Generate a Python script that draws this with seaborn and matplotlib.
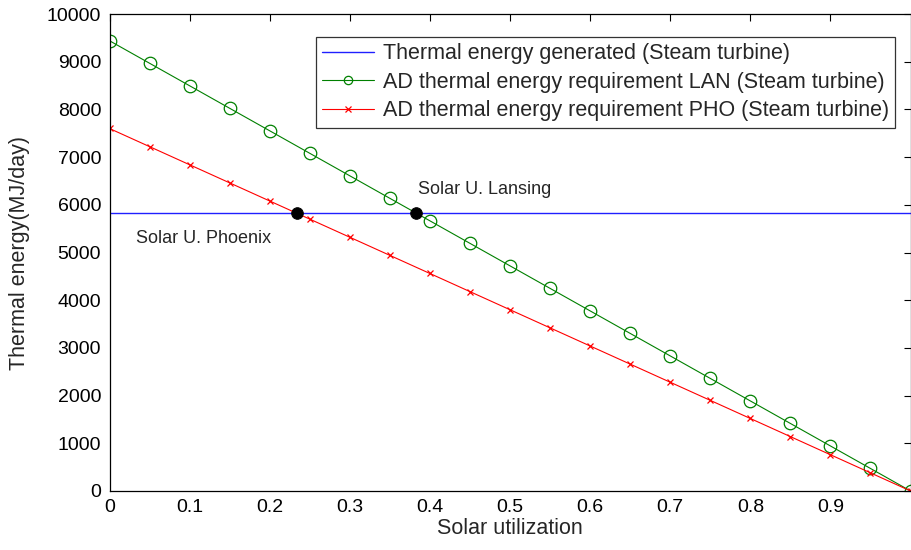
import matplotlib
matplotlib.use("Agg")
import matplotlib.pyplot as plt
import seaborn as sns
import pandas as pd

solar_util = [0.0, 0.05, 0.1, 0.15, 0.2, 0.25, 0.3, 0.35, 0.4, 0.45, 0.5,
              0.55, 0.6, 0.65, 0.7, 0.75, 0.8, 0.85, 0.9, 0.95, 1.0]
lan_req = [9440, 8968, 8496, 8024, 7552, 7080, 6608, 6136, 5664, 5192, 4720,
           4248, 3776, 3304, 2832, 2360, 1888, 1416, 944, 472, 0]
pho_req = [7600, 7220, 6840, 6460, 6080, 5700, 5320, 4940, 4560, 4180, 3800,
           3420, 3040, 2660, 2280, 1900, 1520, 1140, 760, 380, 0]
generated = 5820
gen_x = [0.0, 1.0]
gen_y = [generated, generated]
cross_x = [0.234, 0.383]
cross_y = [generated, generated]
labels = ["Thermal energy generated (Steam turbine)",
          "AD thermal energy requirement LAN (Steam turbine)",
          "AD thermal energy requirement PHO (Steam turbine)"]
xticks = [0, 0.1, 0.2, 0.3, 0.4, 0.5, 0.6, 0.7, 0.8, 0.9]
yticks = [0, 1000, 2000, 3000, 4000, 5000, 6000, 7000, 8000, 9000, 10000]

sns.set_theme(style="white")
plt.rcParams['font.family'] = ['Liberation Sans', 'DejaVu Sans']

fig = plt.figure(figsize=(9.11, 5.5), dpi=100)
ax = fig.add_axes([0.1202, 0.1073, 0.8793, 0.8672])

df = pd.DataFrame({"x": solar_util, "lan": lan_req, "pho": pho_req})

sns.lineplot(x=gen_x, y=gen_y, ax=ax, color="#2020FF", linewidth=1.0,
             label=labels[0])
sns.lineplot(data=df, x="x", y="lan", ax=ax, color="#008000", linewidth=0.8,
             marker="o", markersize=9, markerfacecolor="none",
             markeredgecolor="#008000", markeredgewidth=0.9, label=labels[1])
sns.lineplot(data=df, x="x", y="pho", ax=ax, color="#FF0000", linewidth=0.8,
             marker="x", markersize=5, markeredgecolor="#FF0000",
             markeredgewidth=0.9, label=labels[2])
sns.scatterplot(x=cross_x, y=cross_y, ax=ax, color="black", s=70,
                edgecolor="black", zorder=5)

ax.text(0.385, 6330, "Solar U. Lansing", fontsize=13, ha="left", va="center")
ax.text(0.033, 5300, "Solar U. Phoenix", fontsize=13, ha="left", va="center")

ax.set_xlim(0, 1)
ax.set_ylim(0, 10000)
ax.set_xticks(xticks)
ax.set_xticklabels([f"{t:g}" for t in xticks])
ax.set_yticks(yticks)
ax.tick_params(direction="in", length=5, width=0.8, top=True, right=True,
               labelsize=14, colors="black", pad=6)
for s in ax.spines.values():
    s.set_color("black")
    s.set_linewidth(0.9)
ax.set_xlabel("Solar utilization", fontsize=15.5, labelpad=1)
ax.set_ylabel("Thermal energy(MJ/day)", fontsize=15.5, labelpad=12)

leg = ax.legend(loc="upper right", bbox_to_anchor=(0.981, 0.952), fontsize=15.5,
                frameon=True, fancybox=False, edgecolor="black",
                handlelength=2.4, handletextpad=0.4, borderpad=0.3,
                labelspacing=0.35, borderaxespad=0)
leg.get_frame().set_linewidth(0.9)
for h in leg.legend_handles:
    if hasattr(h, "set_markersize"):
        h.set_markersize(6 if h.get_marker() == "o" else 4)

fig.savefig("out.png", dpi=100)
